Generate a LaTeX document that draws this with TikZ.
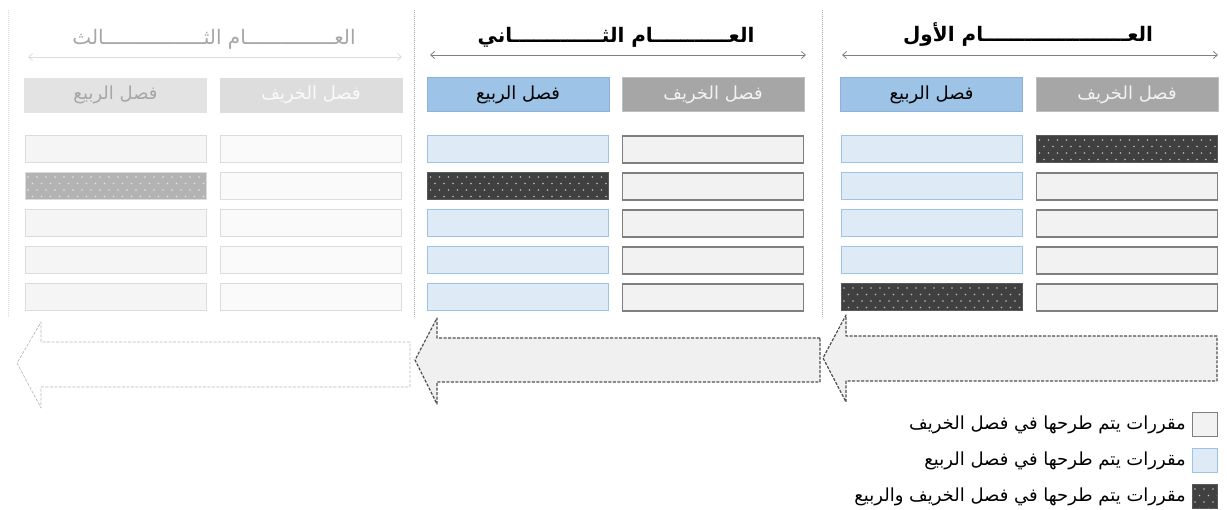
\documentclass[tikz,border=0pt]{standalone}
\usepackage{fontspec}
\newfontfamily\arfont[Script=Arabic]{DejaVu Sans}
\TeXXeTstate=1
\usetikzlibrary{arrows.meta,calc}
\newcommand\AR[1]{{\arfont\beginR #1\endR}}
\definecolor{autF}{HTML}{F2F2F2}
\definecolor{autB}{HTML}{7F7F7F}
\definecolor{sprF}{HTML}{DEEBF7}
\definecolor{sprB}{HTML}{9DC3E6}
\definecolor{hAutF}{HTML}{A6A6A6}
\definecolor{hAutB}{HTML}{BFBFBF}
\definecolor{hSprF}{HTML}{9DC3E6}
\definecolor{hSprB}{HTML}{8FB0D8}
\definecolor{dotF}{HTML}{404040}
\definecolor{dotB}{HTML}{595959}
\definecolor{fadeSprF}{HTML}{F5F5F5}
\definecolor{fadeAutF}{HTML}{FAFAFA}
\definecolor{fadeB}{HTML}{DCDCDC}
\definecolor{fadeDot}{HTML}{B3B3B3}
\definecolor{fadeHA}{HTML}{DDDDDD}
\definecolor{fadeHS}{HTML}{E3E3E3}
\definecolor{fadeTxt}{HTML}{A6A6A6}
\definecolor{arrowF}{HTML}{F0F0F0}
\definecolor{arrowB}{HTML}{505050}
\definecolor{sepC}{HTML}{A6A6A6}
\begin{document}
\begin{tikzpicture}[x=1pt,y=-1pt,
  rowbox/.style={rectangle, inner sep=0pt, minimum width=181pt, minimum height=27pt},
  hdrbox/.style={rectangle, inner sep=0pt, minimum width=182pt, minimum height=34pt, font=\fontsize{18}{20}\selectfont},
  aut/.style={rowbox, draw=autB, fill=autF, line width=1.2pt},
  spr/.style={rowbox, draw=sprB, fill=sprF, line width=1pt},
  dotfill/.style={path picture={
     \foreach \i in {0,...,20}{
       \fill[#1] ($(path picture bounding box.north west)+(\i*9+3,4)$) circle (0.8pt);
       \fill[#1] ($(path picture bounding box.north west)+(\i*9+7.5,10.5)$) circle (0.8pt);
       \fill[#1] ($(path picture bounding box.north west)+(\i*9+3,17)$) circle (0.8pt);
       \fill[#1] ($(path picture bounding box.north west)+(\i*9+7.5,23.5)$) circle (0.8pt);
     }}},
  dotted box/.style={rowbox, draw=dotB, fill=dotF, line width=1pt, dotfill=white!65!dotF},
  fadespr/.style={rowbox, draw=fadeB, fill=fadeSprF, line width=1pt},
  fadeaut/.style={rowbox, draw=fadeB, fill=fadeAutF, line width=1pt},
  fadedot/.style={rowbox, draw=fadeB, fill=fadeDot, line width=1pt, dotfill=white!65!fadeDot},
  hAut/.style={hdrbox, draw=hAutB, fill=hAutF, line width=1pt, text=autF},
  hSpr/.style={hdrbox, draw=hSprB, fill=hSprF, line width=1pt, text=black},
  title/.style={font=\bfseries\fontsize{20}{22}\selectfont},
  yarrow/.style={draw=autB, line width=0.8pt, {Straight Barb[length=4pt,width=7pt]}-{Straight Barb[length=4pt,width=7pt]}},
  sep/.style={draw=sepC, line width=0.8pt, dash pattern=on 1pt off 1pt},
  blockarrow/.style={draw=arrowB, fill=arrowF, line width=1.2pt, dash pattern=on 3pt off 1.5pt, line join=round},
  legtxt/.style={anchor=east, inner sep=0pt, font=\fontsize{18}{20}\selectfont},
  legbox/.style={rectangle, inner sep=0pt, minimum width=25pt, minimum height=24pt}
]
\useasboundingbox (0,0) rectangle (1227,510);

% separators
\coordinate (s1a) at (822,10); \coordinate (s1b) at (822,318);
\coordinate (s2a) at (414,10); \coordinate (s2b) at (414,318);
\coordinate (s3a) at (8,10);   \coordinate (s3b) at (8,318);
\draw[sep] (s1a) -- (s1b);
\draw[sep] (s2a) -- (s2b);
\draw[sep, draw=fadeB] (s3a) -- (s3b);

% block arrows
\draw[blockarrow, fill=arrowF] (1217,336) -- (846,336) -- (846,315) -- (823,358) -- (846,402) -- (846,381) -- (1217,381) -- cycle;
\draw[blockarrow, fill=arrowF] (820,338) -- (437,338) -- (437,318) -- (415,360) -- (437,404) -- (437,382) -- (820,382) -- cycle;
\draw[blockarrow, draw=fadeTxt!80, fill=white, line width=0.7pt] (410,342) -- (41,342) -- (41,322) -- (17,363) -- (41,408) -- (41,387) -- (410,387) -- cycle;

% year titles
\node[title] (y1t) at (1028,35) {\AR{العـــــــــــــــــــــام الأول}};
\node[title] (y2t) at (616,37) {\AR{العـــــــــــام الثـــــــــــــاني}};
\node[title, text=fadeTxt, font=\fontsize{20}{22}\selectfont] (y3t) at (214,39) {\AR{العـــــــــــــــام الثـــــــــــــــــالث}};

\coordinate (y1l) at (842,55); \coordinate (y1r) at (1218,55);
\coordinate (y2l) at (430,55); \coordinate (y2r) at (806,55);
\coordinate (y3l) at (28,57);  \coordinate (y3r) at (402,57);
\draw[yarrow] (y1l) -- (y1r);
\draw[yarrow] (y2l) -- (y2r);
\draw[yarrow, draw=fadeB] (y3l) -- (y3r);

% headers
\node[hSpr] (y1hs) at (931.5,95) {\AR{فصل الربيع}};
\node[hAut] (y1ha) at (1127,95) {\AR{فصل الخريف}};
\node[hSpr] (y2hs) at (518,95) {\AR{فصل الربيع}};
\node[hAut] (y2ha) at (713,95) {\AR{فصل الخريف}};
\node[hdrbox, draw=fadeHS, fill=fadeHS, text=fadeTxt] (y3hs) at (115.5,95) {\AR{فصل الربيع}};
\node[hdrbox, draw=fadeHA, fill=fadeHA, text=fadeAutF] (y3ha) at (311,95) {\AR{فصل الخريف}};

% year 1 rows
\node[dotted box] (y1a1) at (1127,149.5) {};
\node[aut] (y1a2) at (1127,186.5) {};
\node[aut] (y1a3) at (1127,223.5) {};
\node[aut] (y1a4) at (1127,260.5) {};
\node[aut] (y1a5) at (1127,297.5) {};
\node[spr] (y1s1) at (931.5,149.5) {};
\node[spr] (y1s2) at (931.5,186.5) {};
\node[spr] (y1s3) at (931.5,223.5) {};
\node[spr] (y1s4) at (931.5,260.5) {};
\node[dotted box] (y1s5) at (931.5,297.5) {};

% year 2 rows
\node[aut] (y2a1) at (713,149.5) {};
\node[aut] (y2a2) at (713,186.5) {};
\node[aut] (y2a3) at (713,223.5) {};
\node[aut] (y2a4) at (713,260.5) {};
\node[aut] (y2a5) at (713,297.5) {};
\node[spr] (y2s1) at (518,149.5) {};
\node[dotted box] (y2s2) at (518,186.5) {};
\node[spr] (y2s3) at (518,223.5) {};
\node[spr] (y2s4) at (518,260.5) {};
\node[spr] (y2s5) at (518,297.5) {};

% year 3 rows
\node[fadeaut] (y3a1) at (311,149.5) {};
\node[fadeaut] (y3a2) at (311,186.5) {};
\node[fadeaut] (y3a3) at (311,223.5) {};
\node[fadeaut] (y3a4) at (311,260.5) {};
\node[fadeaut] (y3a5) at (311,297.5) {};
\node[fadespr] (y3s1) at (115.5,149.5) {};
\node[fadedot] (y3s2) at (115.5,186.5) {};
\node[fadespr] (y3s3) at (115.5,223.5) {};
\node[fadespr] (y3s4) at (115.5,260.5) {};
\node[fadespr] (y3s5) at (115.5,297.5) {};

% legend
\node[legbox, draw=autB, fill=autF, line width=1pt] (l1) at (1204.5,425) {};
\node[legbox, draw=sprB, fill=sprF, line width=1pt] (l2) at (1204.5,461) {};
\node[legbox, draw=dotB, fill=dotF, line width=1pt, dotfill=white!65!dotF] (l3) at (1204.5,497) {};
\node[legtxt] (l1t) at (1186,425) {\AR{مقررات يتم طرحها في فصل الخريف}};
\node[legtxt] (l2t) at (1186,461) {\AR{مقررات يتم طرحها في فصل الربيع}};
\node[legtxt] (l3t) at (1186,497) {\AR{مقررات يتم طرحها في فصل الخريف والربيع}};
\end{tikzpicture}
\end{document}
